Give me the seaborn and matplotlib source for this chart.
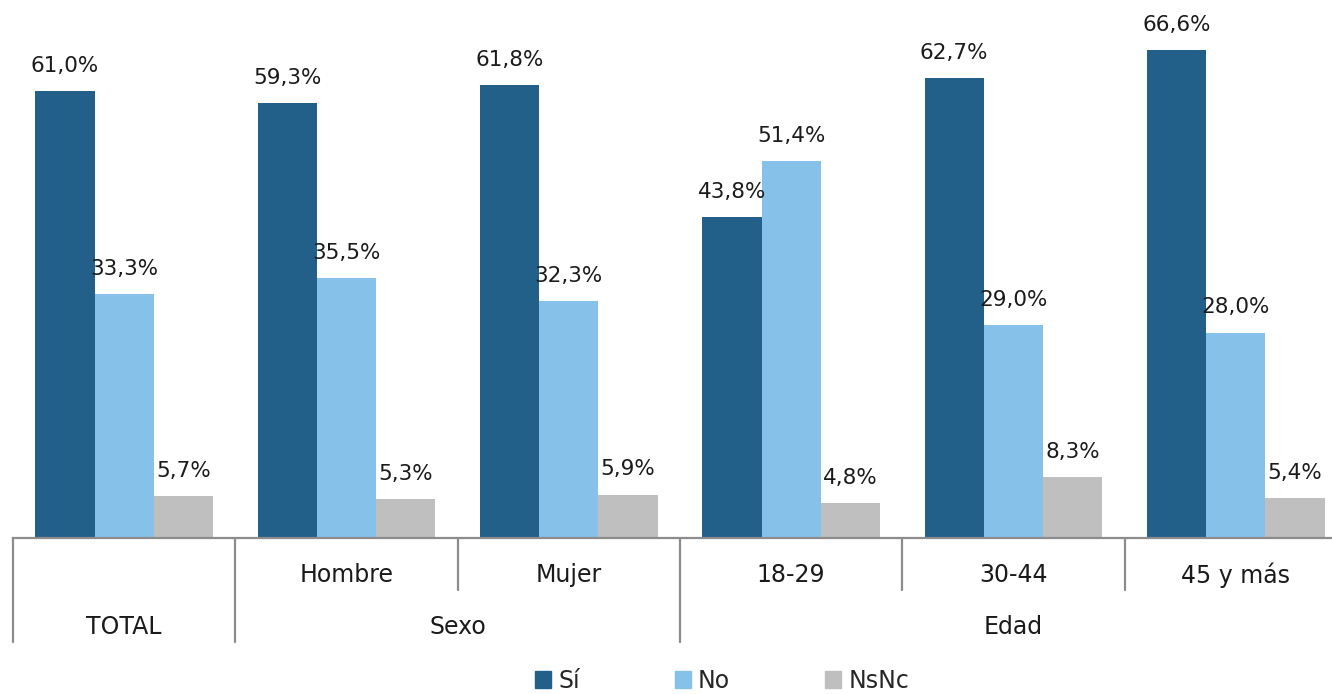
import matplotlib
matplotlib.use("Agg")
import matplotlib.pyplot as plt
import matplotlib.patches as mpatches
import pandas as pd
import seaborn as sns

groups = ["TOTAL", "Hombre", "Mujer", "18-29", "30-44", "45 y más"]
series = ["Sí", "No", "NsNc"]
si = [61.0, 59.3, 61.8, 43.8, 62.7, 66.6]
no = [33.3, 35.5, 32.3, 51.4, 29.0, 28.0]
nsnc = [5.7, 5.3, 5.9, 4.8, 8.3, 5.4]
top_labels = ["", "Hombre", "Mujer", "18-29", "30-44", "45 y más"]
outer_labels = [("TOTAL", 0), ("Sexo", 1.5), ("Edad", 4.0)]
colors = ["#236089", "#85C1E9", "#BFBFBF"]

rows = []
for name, vals in zip(series, [si, no, nsnc]):
    for g, v in zip(groups, vals):
        rows.append({"grupo": g, "serie": name, "valor": v})
df = pd.DataFrame(rows)

sns.set_style("white")
plt.rcParams["font.family"] = ["DejaVu Sans"]

fig = plt.figure(figsize=(13.32, 6.94), dpi=100)
ax = fig.add_axes([13 / 1332, 156 / 694, 1334 / 1332, 538 / 694])

sns.barplot(data=df, x="grupo", y="valor", hue="serie", order=groups,
            hue_order=series, palette=colors, width=0.8, saturation=1,
            linewidth=0, edgecolor="none", legend=False, ax=ax)

for cont in ax.containers:
    labs = [f"{b.get_height():.1f}%".replace(".", ",") for b in cont]
    ax.bar_label(cont, labels=labs, padding=11, fontsize=15.5, color="#1a1a1a")

ax.set_xlim(-0.5, 5.5)
ax.set_ylim(0, 538 / 7.33)
ax.set_xlabel("")
ax.set_ylabel("")
ax.set_xticks([])
ax.set_yticks([])
for s in ["top", "right", "left"]:
    ax.spines[s].set_visible(False)
ax.spines["bottom"].set_color("#8c8c8c")
ax.spines["bottom"].set_linewidth(1.6)

tr = ax.get_xaxis_transform()
for x in [-0.5, 0.5, 2.5]:
    ax.plot([x, x], [0, -104 / 538], color="#8c8c8c", lw=1.6, transform=tr, clip_on=False)
for x in [1.5, 3.5, 4.5]:
    ax.plot([x, x], [0, -52 / 538], color="#8c8c8c", lw=1.6, transform=tr, clip_on=False)

for i, lab in enumerate(top_labels):
    ax.text(i, -37 / 538, lab, transform=tr, ha="center", va="center",
            fontsize=17, color="#1a1a1a")
for lab, x in outer_labels:
    ax.text(x, -89 / 538, lab, transform=tr, ha="center", va="center",
            fontsize=17, color="#1a1a1a")

handles = [mpatches.Patch(color=c, label=s) for c, s in zip(colors, series)]
fig.legend(handles=handles, loc="center", bbox_to_anchor=(722 / 1332, 1 - 681 / 694),
           ncol=3, frameon=False, fontsize=17, handlelength=0.7, handleheight=0.7,
           handletextpad=0.3, columnspacing=4.0)

fig.savefig("out.png", dpi=100)
